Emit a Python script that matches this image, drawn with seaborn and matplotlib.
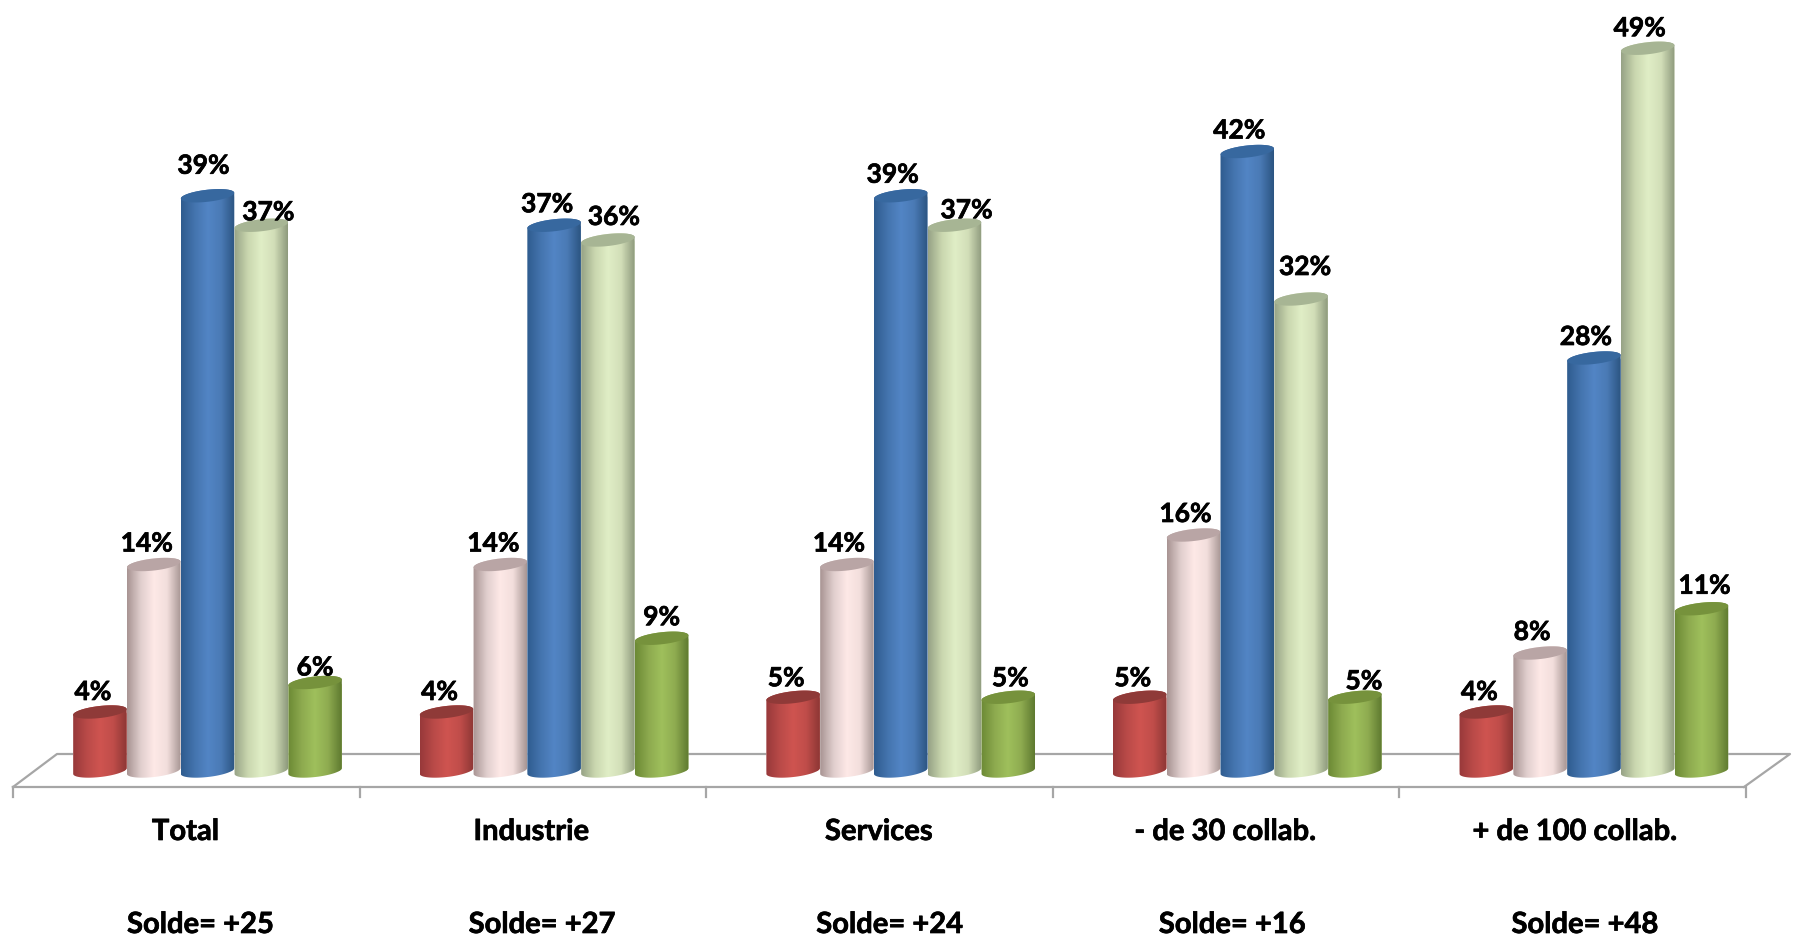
#!/usr/bin/env python3
"""Cylinder bar chart, five groups and five answers"""

import numpy as np
import pandas as pd
import matplotlib
matplotlib.use('Agg')
import matplotlib.pyplot as plt
import matplotlib.patheffects as pe
import seaborn as sns
from matplotlib.colors import LinearSegmentedColormap
from matplotlib.patches import Polygon

# ============================================
# DATA
# ============================================
GROUPS = ['Total', 'Industrie', 'Services', '- de 30 collab.', '+ de 100 collab.']
SOLDES = ['Solde= +25', 'Solde= +27', 'Solde= +24', 'Solde= +16', 'Solde= +48']
SERIES = ['s1', 's2', 's3', 's4', 's5']

S1 = [4, 4, 5, 5, 4]
S2 = [14, 14, 14, 16, 8]
S3 = [39, 37, 39, 42, 28]
S4 = [37, 36, 37, 32, 49]
S5 = [6, 9, 5, 5, 11]

# ============================================
# STYLE
# ============================================
BASE = ['#cd504c', '#fde9e7', '#4f81bd', '#e0eec4', '#9bbb59']
SHADES = [
    ['#98393a', '#b94a48', '#cf5450', '#c04d4a', '#8e3735'],
    ['#a99594', '#e0cecd', '#fee9e7', '#f2dedc', '#a89795'],
    ['#2f5c8f', '#4474ae', '#5285c5', '#4a7ab5', '#2c5582'],
    ['#97a386', '#c9d6ae', '#e0eec6', '#d2deb8', '#8f9b7e'],
    ['#6c8a35', '#8daa4f', '#9fc05c', '#8eab50', '#5f7a30'],
]
CAPS = ['#8f3a38', '#b9a5a5', '#37689f', '#a7b594', '#76923c']
AXIS_GREY = '#a6a6a6'

# label shift from the bar top, in pixels (x, above)
LABEL_DX = [[-7, -7, -4, 7, 0],
            [-7, -7, -7, 6, 0],
            [-7, -8, -8, 12, 2],
            [-7, -8, -8, 4, 9],
            [-7, -8, -8, -8, 3]]
LABEL_DY = [[20, 21, 30, 13, 15],
            [20, 21, 21, 23, 21],
            [19, 21, 21, 15, 19],
            [19, 21, 21, 32, 16],
            [20, 21, 21, 20, 23]]
GROUP_DX = [-22, -23, -22, -22, -19]
SOLDE_DX = [-7, -12, -11, -15, -9]

W, H = 1797, 945
X0, PERIOD = 207.5, 346.6     # pixel x of first group centre, pixels per group
Y0, UNIT = 772.0, 14.75       # pixel y of value 0, pixels per percent


def to_x(px):
    return (px - X0) / PERIOD


def to_y(py):
    return (Y0 - py) / UNIT


def ellipse_arc(cx, cy, half_w, start, stop):
    """Tilted ellipse arc, returned in data coords"""
    a, b, tilt = half_w * PERIOD, 6.0, np.radians(6.5)
    t = np.linspace(start, stop, 50)
    dx = a * np.cos(t) * np.cos(tilt) - b * np.sin(t) * np.sin(tilt)
    dy = a * np.cos(t) * np.sin(tilt) + b * np.sin(t) * np.cos(tilt)
    return np.column_stack([cx + dx / PERIOD, cy + dy / UNIT])


# ============================================
# BARS
# ============================================
sns.set_style('white')
plt.rcParams['font.family'] = ['Lato', 'DejaVu Sans']

df = pd.DataFrame({
    'group': GROUPS * 5,
    'serie': np.repeat(SERIES, 5),
    'value': S1 + S2 + S3 + S4 + S5,
})

fig = plt.figure(figsize=(W / 100, H / 100), dpi=100)
ax = fig.add_axes([0, 0, 1, 1])
sns.barplot(data=df, x='group', y='value', hue='serie', order=GROUPS, hue_order=SERIES,
            palette=BASE, width=0.776, gap=0, saturation=1, legend=False, ax=ax, zorder=3)

heavy = [pe.withStroke(linewidth=0.5, foreground='black')]

for s, container in enumerate(ax.containers):
    cmap = LinearSegmentedColormap.from_list(f'cyl{s}', SHADES[s])
    for g, bar in enumerate(container):
        x, w, h = bar.get_x(), bar.get_width(), bar.get_height()
        cx = x + w / 2
        z = 3 + s * 0.1

        # body = lower half of foot ellipse + upper half of top ellipse
        outline = np.vstack([ellipse_arc(cx, 0, w / 2, np.pi, 2 * np.pi),
                             ellipse_arc(cx, h, w / 2, 0, np.pi)])
        body = Polygon(outline, closed=True, transform=ax.transData, fc='none', ec='none')
        ax.add_patch(body)
        bar.set_clip_path(body)

        img = ax.imshow(np.linspace(0, 1, 64)[None, :], cmap=cmap, aspect='auto',
                        extent=[x, x + w, -1, h + 1], zorder=z, interpolation='bilinear')
        img.set_clip_path(body)

        cap = Polygon(ellipse_arc(cx, h, w / 2, 0, 2 * np.pi), closed=True,
                      fc=CAPS[s], ec='none', zorder=z + 0.01)
        ax.add_patch(cap)

        ax.annotate(f'{h:.0f}%', (cx, h),
                    xytext=(LABEL_DX[g][s], LABEL_DY[g][s]), textcoords='offset pixels',
                    ha='center', va='center', fontsize=19, fontweight='bold',
                    color='black', zorder=10, path_effects=heavy)

# ============================================
# FLOOR, TICKS, TEXT
# ============================================
left, right = 13, 1744
line_kw = dict(color=AXIS_GREY, lw=1.6, solid_capstyle='projecting')
ax.plot([to_x(left), to_x(57), to_x(1790), to_x(right)],
        [to_y(788), to_y(755), to_y(755), to_y(788)], zorder=1, **line_kw)
ax.plot([to_x(left), to_x(right)], [to_y(788), to_y(788)], zorder=1, **line_kw)
for i in range(6):
    tick = to_x(left) + i
    ax.plot([tick, tick], [to_y(788), to_y(798)], zorder=1, **line_kw)

for i, (name, solde) in enumerate(zip(GROUPS, SOLDES)):
    ax.text(i + GROUP_DX[i] / PERIOD, to_y(833), name, ha='center', va='center',
            fontsize=21, fontweight='bold', color='black', path_effects=heavy)
    ax.text(i + SOLDE_DX[i] / PERIOD, to_y(926), solde, ha='center', va='center',
            fontsize=21, fontweight='bold', color='black', path_effects=heavy)

ax.set_xlim(to_x(0), to_x(W))
ax.set_ylim(to_y(H), to_y(0))
ax.axis('off')

fig.savefig('out.png', dpi=100, facecolor='white')
plt.close(fig)
